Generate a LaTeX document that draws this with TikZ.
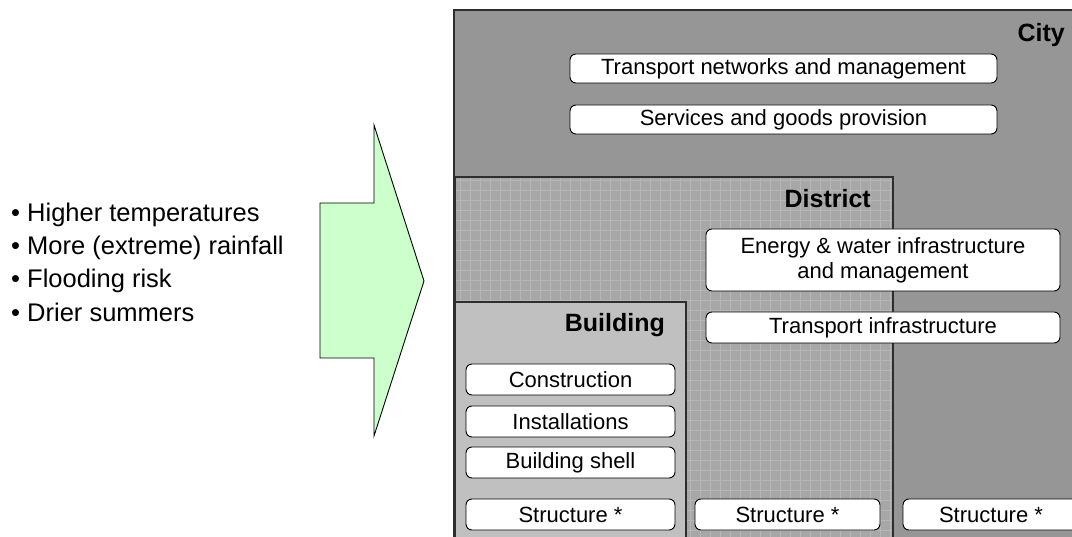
\documentclass[tikz,border=0pt]{standalone}
\usepackage{fontspec}
\setmainfont{Liberation Sans}

% colours of the zones
\definecolor{citygray}{HTML}{969696}
\definecolor{districtgray}{HTML}{A7A7A7}
\definecolor{gridgray}{HTML}{B6B6B6}
\definecolor{buildinggray}{HTML}{C0C0C0}
\definecolor{arrowgreen}{HTML}{CCFFCC}
\definecolor{edgegray}{HTML}{2E2E2E}

\tikzset{
  zone/.style={draw=edgegray, line width=1.4pt},
  itembox/.style={draw=black, line width=0.9pt, fill=white, rounded corners=6pt,
    inner sep=0pt, align=center, font=\fontsize{22}{25}\selectfont},
  zonelabel/.style={anchor=base east, inner sep=0pt, font=\fontsize{25}{30}\selectfont\bfseries},
  riskitem/.style={anchor=base west, inner sep=0pt, font=\fontsize{25.5}{30}\selectfont},
}

\begin{document}
\begin{tikzpicture}[x=1pt, y=-1pt]
\useasboundingbox (0,0) rectangle (1072,537);
\clip (0,0) rectangle (1072,537);

% City zone
\draw[zone, fill=citygray] (454,10) rectangle (1090,550);
\node[zonelabel] (city) at (1065,42) {City};
\node[itembox, minimum width=427, minimum height=29] (transnet) at (783.5,68.5) {Transport networks and management};
\node[itembox, minimum width=427, minimum height=29] (services) at (783.5,119.5) {Services and goods provision};

% District zone with its grid
\fill[districtgray] (455,177) rectangle (893,550);
\begin{scope}
\clip (455,177) rectangle (893,550);
\draw[gridgray, line width=0.6pt, step=10pt] (455,177) grid (893,550);
\end{scope}
\draw[zone] (455,177) rectangle (893,550);
\node[zonelabel] (district) at (871,208) {District};
\node[itembox, minimum width=354, minimum height=62] (energy) at (883,260) {Energy \& water infrastructure\\and management};
\node[itembox, minimum width=354, minimum height=31] (transinfra) at (883,327.5) {Transport infrastructure};

% Building zone
\draw[zone, fill=buildinggray] (455,302) rectangle (686,550);
\node[zonelabel] (building) at (665,332) {Building};
\node[itembox, minimum width=209, minimum height=31] (construction) at (570.5,379.5) {Construction};
\node[itembox, minimum width=209, minimum height=31] (installations) at (570.5,421.5) {Installations};
\node[itembox, minimum width=209, minimum height=31] (shell) at (570.5,462.5) {Building shell};

% Structure row
\node[itembox, minimum width=209, minimum height=31] (structb) at (570.5,514.5) {Structure *};
\node[itembox, minimum width=185, minimum height=31] (structd) at (787.5,514.5) {Structure *};
\node[itembox, minimum width=176, minimum height=31] (structc) at (991,514.5) {Structure *};

% Arrow
\draw[line width=0.9pt, fill=arrowgreen, line join=miter]
  (320,203) -- (374,203) -- (374,125) -- (424,281) -- (374,436) -- (374,358) -- (320,358) -- cycle;

% Climate risks
\node[riskitem] (risk1) at (11,222) {\textbullet\ Higher temperatures};
\node[riskitem] (risk2) at (11,255) {\textbullet\ More (extreme) rainfall};
\node[riskitem] (risk3) at (11,288) {\textbullet\ Flooding risk};
\node[riskitem] (risk4) at (11,322) {\textbullet\ Drier summers};
\end{tikzpicture}
\end{document}
